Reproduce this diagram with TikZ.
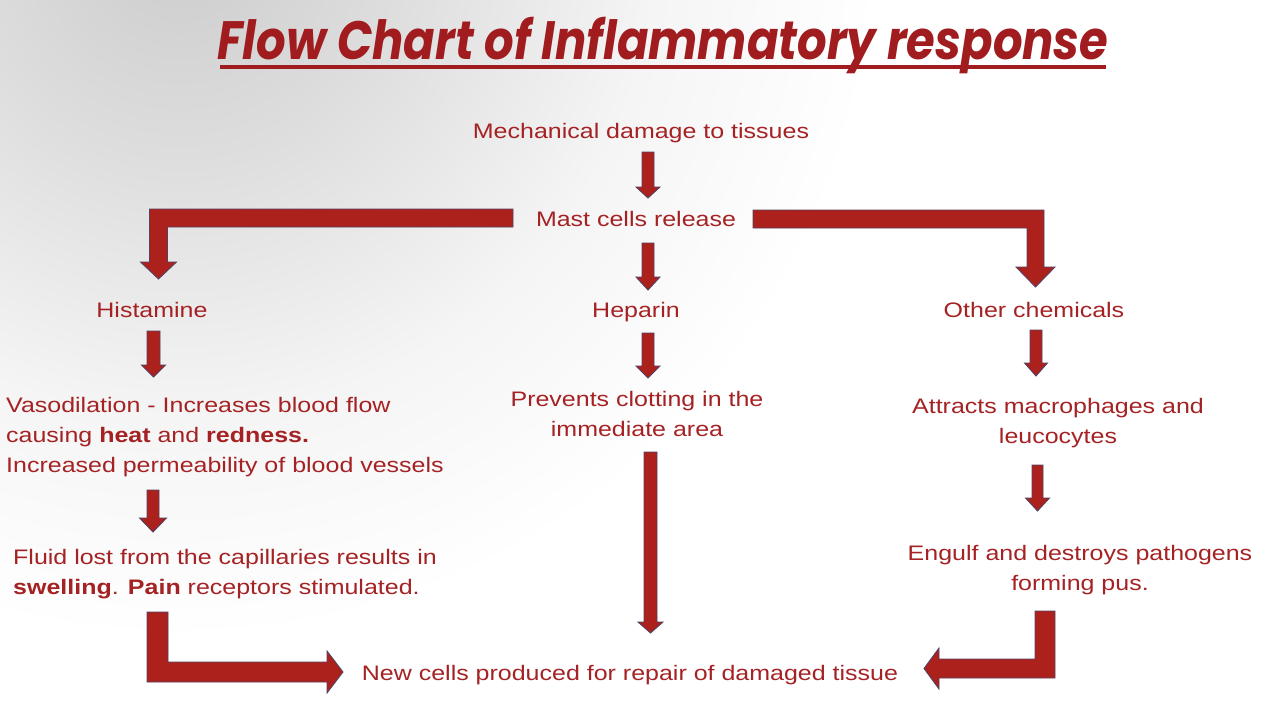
\documentclass[tikz,border=0pt]{standalone}
\usepackage{fontspec}
\setmainfont{Liberation Sans}[FakeStretch=1.19]
\newfontfamily\titlefont{Poppins}[FakeStretch=0.86]
\usetikzlibrary{calc}
\definecolor{txt}{RGB}{165,34,36}
\definecolor{ttl}{RGB}{160,28,30}
\definecolor{arr}{RGB}{172,33,27}
\definecolor{edgec}{RGB}{85,65,100}
\pgfdeclareradialshading{bgsh}{\pgfpoint{0bp}{0bp}}{color(0bp)=(black!20); color(8bp)=(black!13); color(17bp)=(black!4); color(25bp)=(white); color(50bp)=(white)}
\tikzset{
  lbl/.style={text=txt, inner sep=0pt, font=\fontsize{21}{30}\selectfont},
  blk/.style={fill=arr, draw=edgec, line width=0.9pt, line join=miter},
}
\newcommand\blkdown[5]{%
  \draw[blk] ($(#1)+(-#3,0)$) -- ($(#2)+(-#3,-#5)$) -- ($(#2)+(-#4,-#5)$) -- (#2)
    -- ($(#2)+(#4,-#5)$) -- ($(#2)+(#3,-#5)$) -- ($(#1)+(#3,0)$) -- cycle;}
\begin{document}
\begin{tikzpicture}[x=1pt,y=-1pt]
\fill[white] (0,0) rectangle (1278,709);
\begin{scope}
\clip (0,0) rectangle (1278,709);
\shade[shading=bgsh] (-520,-760) rectangle (880,640);
\end{scope}
\useasboundingbox (0,0) rectangle (1278,709);
% title
\node[anchor=base, inner sep=0pt, text=ttl, font=\titlefont\bfseries\itshape\fontsize{54}{60}\selectfont] (title) at (663,60) {Flow Chart of Inflammatory response};
\draw[ttl, line width=3.5pt] (220,67) -- (1106,67);
% nodes
\node[lbl, anchor=base] (mech) at (641,139) {Mechanical damage to tissues};
\node[lbl, anchor=base] (mast) at (636,226) {Mast cells release};
\node[lbl, anchor=base] (hist) at (152,317) {Histamine};
\node[lbl, anchor=base] (hep) at (636,317) {Heparin};
\node[lbl, anchor=base] (other) at (1034,317) {Other chemicals};
\node[lbl, anchor=base west, align=left] (vaso) at (6,472) {Vasodilation - Increases blood flow\\causing \textbf{heat} and \textbf{redness.}\\Increased permeability of blood vessels};
\node[lbl, anchor=base west, align=left] (fluid) at (13,594) {Fluid lost from the capillaries results in\\\textbf{swelling}. \textbf{Pain} receptors stimulated.};
\node[lbl, anchor=base, align=center] (prev) at (637,436) {Prevents clotting in the\\immediate area};
\node[lbl, anchor=base, align=center] (attr) at (1058,443) {Attracts macrophages and\\leucocytes};
\node[lbl, anchor=base, align=center] (engulf) at (1080,590) {Engulf and destroys pathogens\\forming pus.};
\node[lbl, anchor=base] (newc) at (630,680) {New cells produced for repair of damaged tissue};
% arrow end points
\coordinate (a1s) at (648,152); \coordinate (a1e) at (648,198);
\coordinate (a2s) at (648,243); \coordinate (a2e) at (648,290);
\coordinate (a3s) at (153.5,331); \coordinate (a3e) at (153.5,377);
\coordinate (a4s) at (648,333); \coordinate (a4e) at (648,378);
\coordinate (a5s) at (1036,330); \coordinate (a5e) at (1036,376);
\coordinate (a6s) at (153,490); \coordinate (a6e) at (153,532);
\coordinate (a7s) at (650.5,452); \coordinate (a7e) at (650.5,633);
\coordinate (a8s) at (1037.5,465); \coordinate (a8e) at (1037.5,511);
\blkdown{a1s}{a1e}{6}{12}{11}
\blkdown{a2s}{a2e}{6}{12}{13}
\blkdown{a3s}{a3e}{6.5}{12}{12}
\blkdown{a4s}{a4e}{6}{12}{12}
\blkdown{a5s}{a5e}{6}{11.5}{13}
\blkdown{a6s}{a6e}{6}{13.5}{14}
\blkdown{a7s}{a7e}{6.5}{12.5}{11}
\blkdown{a8s}{a8e}{5.5}{12}{13}
% bent arrows
\coordinate (b1s) at (513,218); \coordinate (b1e) at (158.5,279);
\draw[blk] ($(b1s)+(0,-9)$) -- ($(b1e|-b1s)+(-9,-9)$) -- ($(b1e)+(-9,-17)$) -- ($(b1e)+(-18,-17)$) -- (b1e)
  -- ($(b1e)+(18,-17)$) -- ($(b1e)+(9,-17)$) -- ($(b1e|-b1s)+(9,9)$) -- ($(b1s)+(0,9)$) -- cycle;
\coordinate (b2s) at (753,219); \coordinate (b2e) at (1035.5,287);
\draw[blk] ($(b2s)+(0,-9)$) -- ($(b2e|-b2s)+(8.5,-9)$) -- ($(b2e)+(8.5,-20)$) -- ($(b2e)+(19.5,-20)$) -- (b2e)
  -- ($(b2e)+(-19.5,-20)$) -- ($(b2e)+(-8.5,-20)$) -- ($(b2e|-b2s)+(-8.5,9)$) -- ($(b2s)+(0,9)$) -- cycle;
\coordinate (b3s) at (157.5,612); \coordinate (b3e) at (343,672);
\draw[blk] ($(b3s)+(-10.5,0)$) -- ($(b3s|-b3e)+(-10.5,10)$) -- ($(b3e)+(-16,10)$) -- ($(b3e)+(-16,21)$) -- (b3e)
  -- ($(b3e)+(-16,-21)$) -- ($(b3e)+(-16,-10)$) -- ($(b3s|-b3e)+(10.5,-10)$) -- ($(b3s)+(10.5,0)$) -- cycle;
\coordinate (b4s) at (1045,611); \coordinate (b4e) at (924,668.5);
\draw[blk] ($(b4s)+(10,0)$) -- ($(b4s|-b4e)+(10,9.5)$) -- ($(b4e)+(15,9.5)$) -- ($(b4e)+(15,20.5)$) -- (b4e)
  -- ($(b4e)+(15,-20.5)$) -- ($(b4e)+(15,-9.5)$) -- ($(b4s|-b4e)+(-10,-9.5)$) -- ($(b4s)+(-10,0)$) -- cycle;
\end{tikzpicture}
\end{document}
